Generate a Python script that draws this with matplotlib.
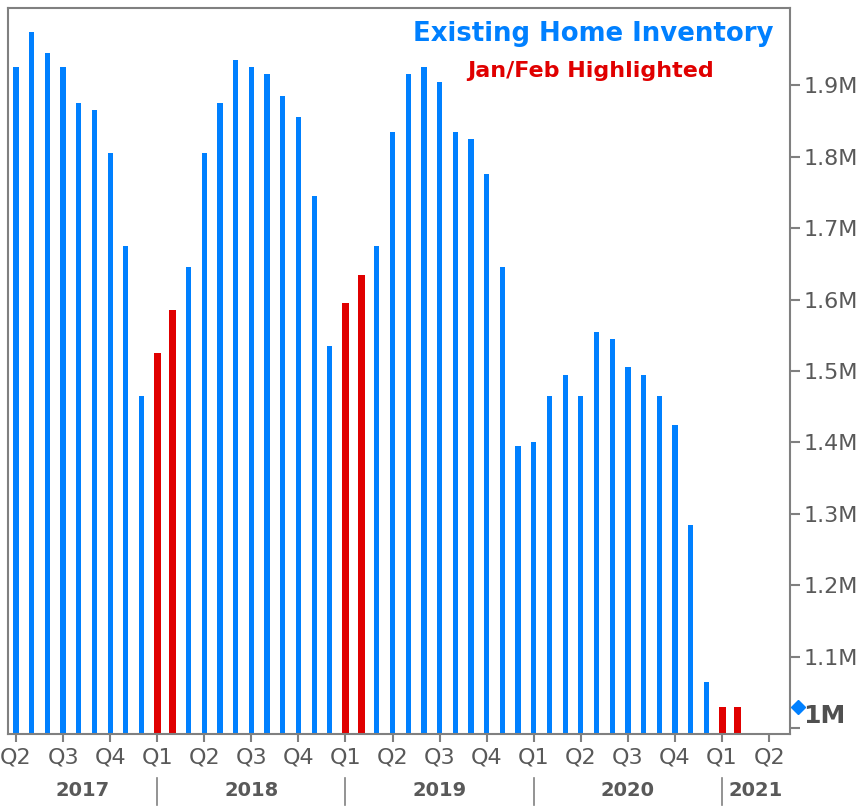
import matplotlib
matplotlib.use('Agg')
import matplotlib.pyplot as plt
import matplotlib.transforms as mtransforms
import pandas as pd

# monthly existing home inventory, Apr 2017 .. Feb 2021 (millions)
months = pd.period_range('2017-04', '2021-02', freq='M')
inv_2017 = [1.925, 1.975, 1.945, 1.925, 1.875, 1.865, 1.805, 1.675, 1.465]
inv_2018 = [1.525, 1.585, 1.645, 1.805, 1.875, 1.935, 1.925, 1.915, 1.885, 1.855, 1.745, 1.535]
inv_2019 = [1.595, 1.635, 1.675, 1.835, 1.915, 1.925, 1.905, 1.835, 1.825, 1.775, 1.645, 1.395]
inv_2020 = [1.400, 1.465, 1.495, 1.465, 1.555, 1.545, 1.505, 1.495, 1.465, 1.425, 1.285, 1.065]
inv_2021 = [1.030, 1.030]
inventory = inv_2017 + inv_2018 + inv_2019 + inv_2020 + inv_2021
highlighted = ['2018-01', '2018-02', '2019-01', '2019-02', '2021-01', '2021-02']

quarter_labels = ['Q2', 'Q3', 'Q4', 'Q1', 'Q2', 'Q3', 'Q4', 'Q1', 'Q2',
                  'Q3', 'Q4', 'Q1', 'Q2', 'Q3', 'Q4', 'Q1', 'Q2']
years = ['2017', '2018', '2019', '2020', '2021']
ytick_vals = [1.0, 1.1, 1.2, 1.3, 1.4, 1.5, 1.6, 1.7, 1.8, 1.9]
ytick_labels = ['', '1.1M', '1.2M', '1.3M', '1.4M', '1.5M', '1.6M', '1.7M', '1.8M', '1.9M']
last_label = '1M'

BLUE = '#0080ff'
RED = '#e00000'
GREY = '#595959'
SPINE = '#808080'

plt.rcParams['font.family'] = ['DejaVu Sans']

fig = plt.figure(figsize=(8.61, 8.08), dpi=100)
ax = fig.add_axes([8 / 861, 1 - 734 / 808, 782 / 861, 726 / 808])

x = list(range(len(months)))
month_str = [str(m) for m in months]
bottom = 0.992
for xi, m, v in zip(x, month_str, inventory):
    if m in highlighted:
        ax.bar(xi, v - bottom, bottom=bottom, width=0.44, color=RED)
    else:
        ax.bar(xi, v - bottom, bottom=bottom, width=0.33, color=BLUE)

ax.set_xlim(-0.51, 49.33)
ax.set_ylim(bottom, 2.008)

for s in ax.spines.values():
    s.set_color(SPINE)
    s.set_linewidth(1.5)

# x axis: quarter ticks at first month of each quarter
qpos = [i for i in range(len(months) + 2) if (4 + i) % 3 == 1]
ax.set_xticks(qpos)
ax.set_xticklabels(quarter_labels)
ax.tick_params(axis='x', direction='out', length=6, width=1.5, color=SPINE,
               labelsize=16, labelcolor=GREY, pad=4)

ax.yaxis.tick_right()
ax.set_yticks(ytick_vals)
ax.set_yticklabels(ytick_labels)
ax.tick_params(axis='y', direction='out', length=7, width=1.5, color=SPINE,
               labelsize=16, labelcolor=GREY, pad=3)

# year row
trans = mtransforms.blended_transform_factory(ax.transData, ax.transAxes)
jan_pos = [i for i, m in enumerate(months) if m.month == 1]
edges = [-0.51] + jan_pos + [49.33]
for xp in jan_pos:
    ax.plot([xp, xp], [-0.061, -0.098], transform=trans, color=SPINE,
            lw=1.2, clip_on=False)
for i, yr in enumerate(years):
    xc = (edges[i] + edges[i + 1]) / 2
    ax.text(xc, -0.078, yr, transform=trans, ha='center', va='center',
            fontsize=14, fontweight='bold', color=GREY)

# last value marker and label
ax.plot([49.84], [inventory[-1]], marker='D', markersize=7, color=BLUE,
        clip_on=False)
ax.annotate(last_label, xy=(49.84, inventory[-1]), xytext=(3.5, -6.5),
            textcoords='offset points', ha='left', va='center',
            fontsize=18, fontweight='bold', color='#505050',
            annotation_clip=False)

# title
ax.text(0.749, 0.964, 'Existing Home Inventory', transform=ax.transAxes,
        ha='center', va='center', fontsize=18.7, fontweight='bold', color=BLUE)
ax.text(0.745, 0.913, 'Jan/Feb Highlighted', transform=ax.transAxes,
        ha='center', va='center', fontsize=16, fontweight='bold', color=RED)

plt.savefig('out.png', dpi=100)
